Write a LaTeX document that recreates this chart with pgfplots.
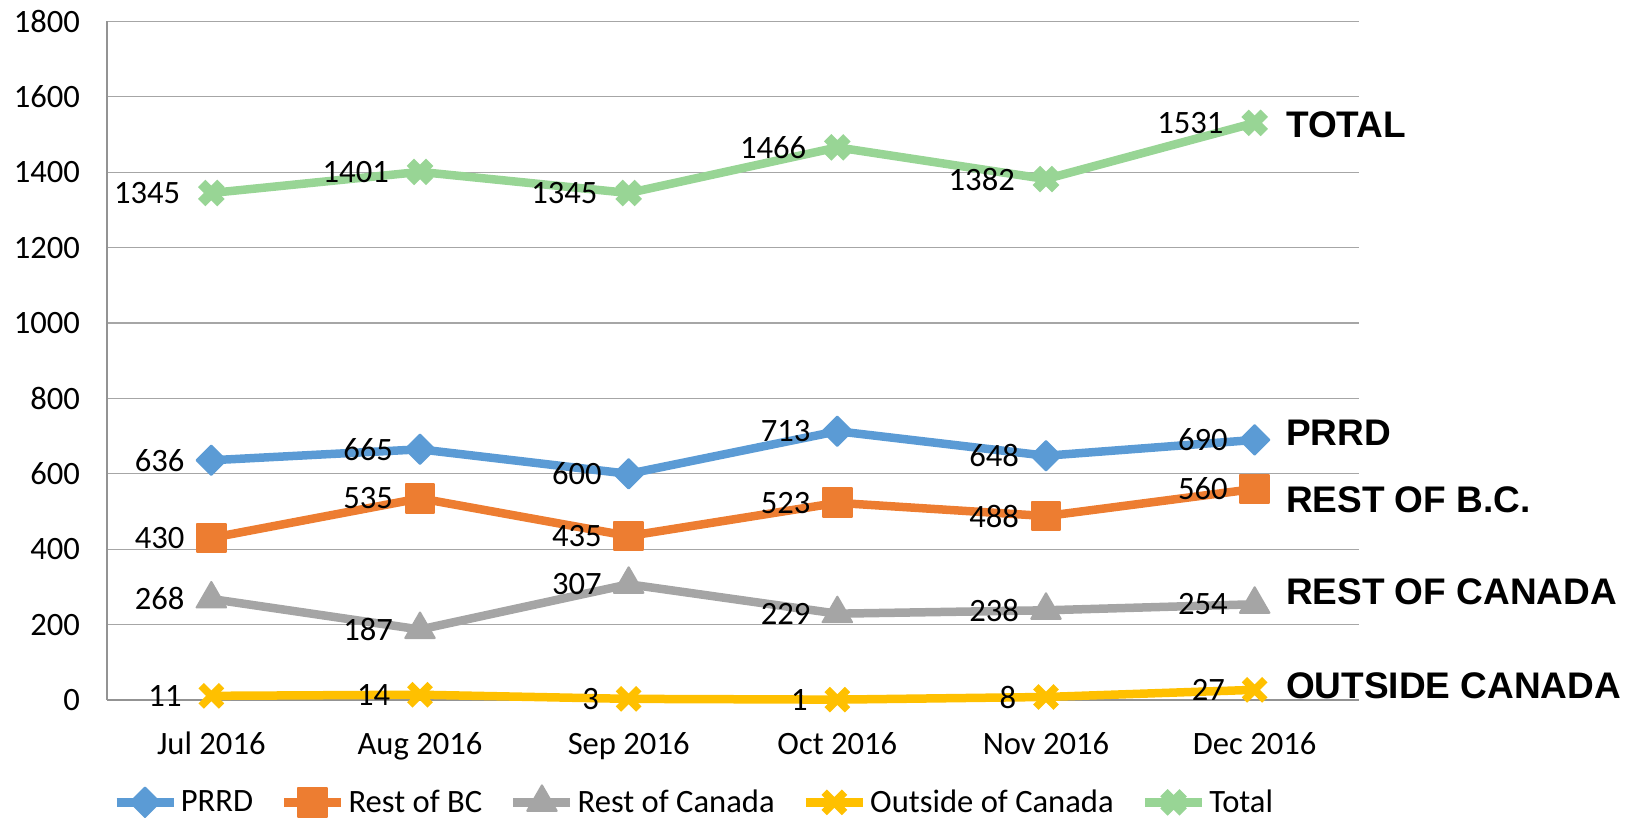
\documentclass[border=0pt]{standalone}
\usepackage{pgfplots}
\pgfplotsset{compat=1.18}
\usepackage{fontspec}
\setmainfont{Carlito}
\newfontfamily\arialfont{Liberation Sans}
\definecolor{cPRRD}{HTML}{5B9BD5}
\definecolor{cRBC}{HTML}{ED7D31}
\definecolor{cROC}{HTML}{A5A5A5}
\definecolor{cOOC}{HTML}{FFC000}
\definecolor{cTOT}{HTML}{98D595}
\newcommand{\lbl}{\fontsize{16.3}{19}\selectfont}
\begin{document}
\begin{tikzpicture}
\path[use as bounding box] (0,0) rectangle (821.5pt,409.5pt);
\begin{axis}[
 at={(53.5pt,59.5pt)}, anchor=south west,
 width=626pt, height=339.25pt, scale only axis,
 xmin=-0.5, xmax=5.5, ymin=0, ymax=1800,
 xtick={0,...,5}, xticklabels={Jul 2016,Aug 2016,Sep 2016,Oct 2016,Nov 2016,Dec 2016},
 ytick={0,200,...,1800}, yticklabels={0,200,400,600,800,1000,1200,1400,1600,1800},
 major tick length=0pt,
 axis lines*=left,
 axis line style={draw=gray!85, line width=0.6pt},
 ymajorgrids, grid style={draw=gray!70, line width=0.6pt},
 ticklabel style={font=\lbl, text=black},
 yticklabel style={xshift=-10pt},
 xticklabel style={yshift=-12.5pt},
 clip=false,
 legend columns=5,
 legend style={at={(0.469,-0.150)}, anchor=center, draw=none, font=\lbl,
   nodes={inner sep=1.5pt},
   /tikz/every even column/.append style={column sep=12pt}},
 legend image code/.code={\draw[mark repeat=2, mark phase=2, #1] plot coordinates {(0pt,0pt) (14.25pt,0pt) (28.5pt,0pt)};},
 every axis plot/.append style={line width=4.25pt, line join=round},
 nodes near coords, point meta=explicit symbolic,
 every node near coord/.append style={anchor=east, xshift=-13pt, inner sep=0pt, font=\lbl, text=black},
]
\addplot[color=cPRRD, mark=square*, mark size=5.2pt, mark options={rotate=45, line width=1pt, solid}]
 coordinates {(0,636)[636] (1,665)[665] (2,600)[600] (3,713)[713] (4,648)[648] (5,690)[690]};
\addlegendentry{PRRD}
\addplot[color=cRBC, mark=square*, mark size=7.2pt, mark options={line width=1pt, solid, rounded corners=1.5pt}]
 coordinates {(0,430)[430] (1,535)[535] (2,435)[435] (3,523)[523] (4,488)[488] (5,560)[560]};
\addlegendentry{Rest of BC}
\addplot[color=cROC, mark=triangle*, mark size=8.5pt, mark options={line width=1pt, solid, line join=round}]
 coordinates {(0,268)[268] (1,187)[187] (2,307)[307] (3,229)[229] (4,238)[238] (5,254)[254]};
\addlegendentry{Rest of Canada}
\addplot[color=cOOC, mark=x, mark size=7.2pt, mark options={line width=3.8pt, solid}]
 coordinates {(0,11)[11] (1,14)[14] (2,3)[3] (3,1)[1] (4,8)[8] (5,27)[27]};
\addlegendentry{Outside of Canada}
\addplot[color=cTOT, mark=x, mark size=6.8pt, mark options={line width=5.2pt, solid}]
 coordinates {(0,1345)[1345] (1,1401)[1401] (2,1345)[1345] (3,1466)[1466] (4,1382)[1382] (5,1531)[1531]};
\addlegendentry{Total}
\node[anchor=west, inner sep=0pt, xshift=15.5pt, font=\arialfont\bfseries\fontsize{18.5}{20}\selectfont] at (axis cs:5,1526) {TOTAL};
\node[anchor=west, inner sep=0pt, xshift=15.5pt, font=\arialfont\bfseries\fontsize{18.5}{20}\selectfont] at (axis cs:5,709) {PRRD};
\node[anchor=west, inner sep=0pt, xshift=15.5pt, font=\arialfont\bfseries\fontsize{18.5}{20}\selectfont] at (axis cs:5,531) {REST OF B.C.};
\node[anchor=west, inner sep=0pt, xshift=15.5pt, font=\arialfont\bfseries\fontsize{18.5}{20}\selectfont] at (axis cs:5,286) {REST OF CANADA};
\node[anchor=west, inner sep=0pt, xshift=15.5pt, font=\arialfont\bfseries\fontsize{18.5}{20}\selectfont] at (axis cs:5,37) {OUTSIDE CANADA};
\end{axis}
\end{tikzpicture}
\end{document}
